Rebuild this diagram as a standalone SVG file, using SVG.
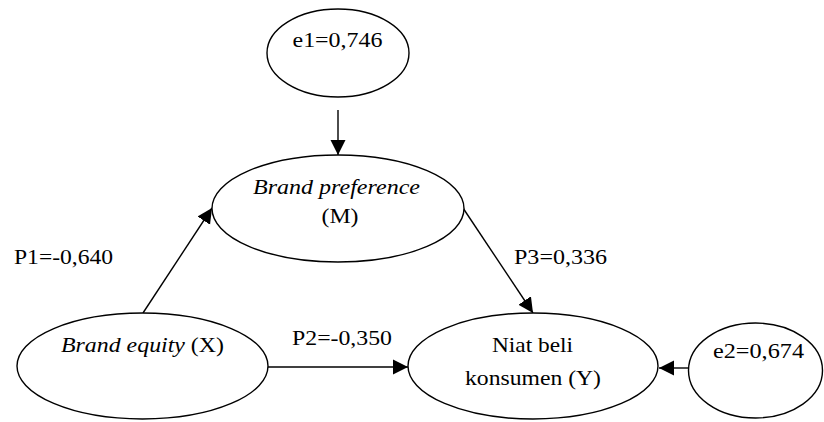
<svg xmlns="http://www.w3.org/2000/svg" width="824" height="422" viewBox="0 0 824 422">
<style>
.n{fill:#fff;stroke:#000;stroke-width:1.4}
.t{font-family:'Liberation Serif','Times New Roman','DejaVu Serif',serif;font-size:21px;fill:#000}
.i{font-style:italic}
.c line{stroke:#000;stroke-width:1.4;marker-end:url(#a)}
</style>
<defs>
<marker id="a" markerUnits="userSpaceOnUse" markerWidth="16" markerHeight="16" viewBox="0 0 16 16" refX="15" refY="8" orient="auto">
<path d="M0,0.5 L15,8 L0,15.5 Z" fill="#000"/>
</marker>
</defs>
<rect width="824" height="422" fill="#fff"/>
<g class="c" id="connectors">
<line x1="338" y1="110" x2="338" y2="155"/>
<line x1="143" y1="313" x2="212" y2="208"/>
<line x1="268" y1="367" x2="408" y2="367"/>
<line x1="463" y1="208" x2="533" y2="313"/>
<line x1="688" y1="368" x2="659" y2="368"/>
</g>
<g id="e1">
<ellipse class="n" cx="338" cy="53" rx="71" ry="44"/>
<text class="t" x="337.5" y="47" text-anchor="middle" textLength="90" lengthAdjust="spacingAndGlyphs">e1=0,746</text>
</g>
<g id="M">
<ellipse class="n" cx="338" cy="208.5" rx="126" ry="53.5"/>
<text class="t i" x="336.5" y="194" text-anchor="middle" textLength="167" lengthAdjust="spacingAndGlyphs">Brand preference</text>
<text class="t" x="340" y="223" text-anchor="middle" textLength="37" lengthAdjust="spacingAndGlyphs">(M)</text>
</g>
<g id="X">
<ellipse class="n" cx="142.5" cy="366" rx="125.5" ry="53"/>
<text class="t" x="61" y="352" textLength="163" lengthAdjust="spacingAndGlyphs"><tspan class="i">Brand equity</tspan> (X)</text>
</g>
<g id="Y">
<ellipse class="n" cx="533" cy="366" rx="125" ry="53"/>
<text class="t" x="532.5" y="352" text-anchor="middle" textLength="81" lengthAdjust="spacingAndGlyphs">Niat beli</text>
<text class="t" x="533" y="385" text-anchor="middle" textLength="136" lengthAdjust="spacingAndGlyphs">konsumen (Y)</text>
</g>
<g id="e2">
<ellipse class="n" cx="755.5" cy="370.5" rx="67" ry="47.5"/>
<text class="t" x="758.5" y="358" text-anchor="middle" textLength="91" lengthAdjust="spacingAndGlyphs">e2=0,674</text>
</g>
<g id="labels">
<text class="t" x="14" y="264" textLength="99" lengthAdjust="spacingAndGlyphs">P1=-0,640</text>
<text class="t" x="292" y="345" textLength="100" lengthAdjust="spacingAndGlyphs">P2=-0,350</text>
<text class="t" x="514" y="264" textLength="93" lengthAdjust="spacingAndGlyphs">P3=0,336</text>
</g>
</svg>
